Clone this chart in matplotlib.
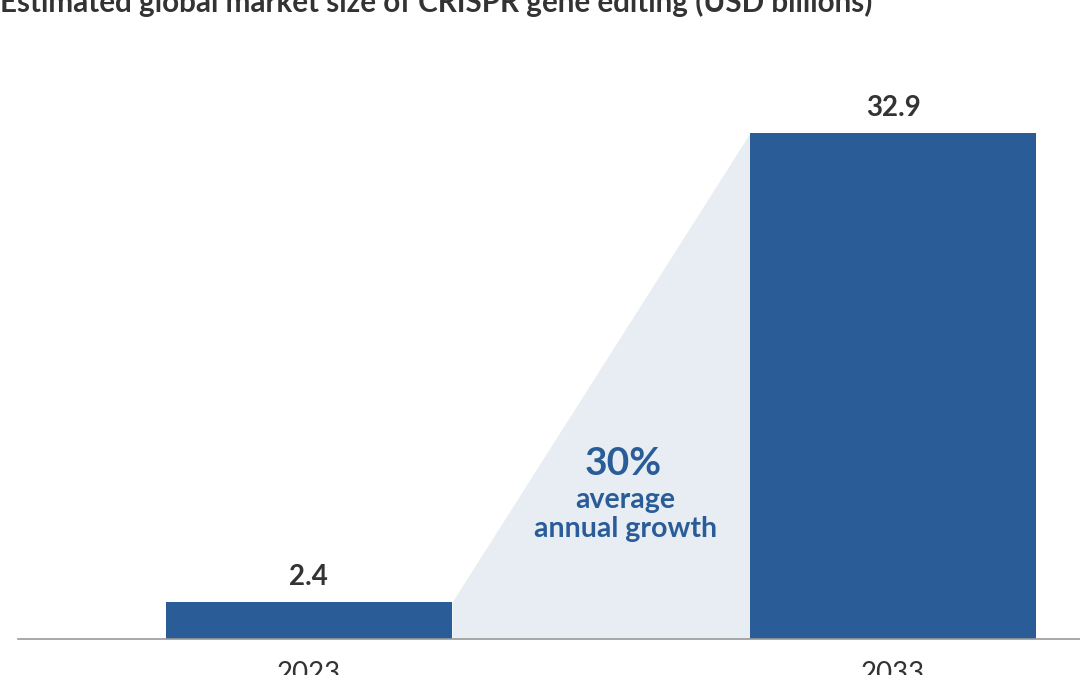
import numpy as np
import matplotlib.pyplot as plt

# data
years = ["2023", "2033"]
market_size = [2.4, 32.9]
growth_label = "30%"
growth_text = "average\nannual growth"
title = "Estimated global market size of CRISPR gene editing (USD billions)"

bar_color = "#2a5d98"
shade_color = "#e8edf3"
text_color = "#333333"

plt.rcParams['font.family'] = ['Lato', 'DejaVu Sans']

fig = plt.figure(figsize=(10.8, 6.75), dpi=100)
ax = fig.add_axes([18 / 1080, 36 / 675, 1 - 18 / 1080, 600 / 675])

x = np.arange(len(years))
width = 0.49
ax.bar(x, market_size, width=width, color=bar_color, zorder=3)

# shaded growth band between the bars
xs = [x[0] + width / 2, x[1] - width / 2]
ax.fill_between(xs, [0, 0], market_size, color=shade_color, lw=0, zorder=1)

for xi, v in zip(x, market_size):
    ax.annotate(f"{v}", (xi, v), xytext=(0, 9), textcoords="offset points",
                ha="center", va="bottom", fontsize=20, fontweight="bold",
                color=text_color)

tx = 0.538
ax.text(tx, 10.66, growth_label, ha="center", va="baseline", fontsize=28,
        fontweight="bold", color=bar_color)
ax.text(tx + 0.004, 6.63, growth_text, ha="center", va="baseline", fontsize=20.5,
        fontweight="bold", color=bar_color, linespacing=1.15)

ax.set_xlim(-0.498, 1.320)
ax.set_ylim(0, 600 / 506 * 32.9)
ax.set_xticks(x)
ax.set_xticklabels(years, fontsize=20, color=text_color)
ax.tick_params(axis="x", length=0, pad=16)
ax.set_yticks([])
for s in ["top", "right", "left"]:
    ax.spines[s].set_visible(False)
ax.spines["bottom"].set_color("#999999")
ax.spines["bottom"].set_linewidth(1.2)
ax.spines["bottom"].set_zorder(4)

fig.text(0.0, 1 - 12 / 675, title, ha="left", va="baseline", fontsize=21.3,
         fontweight="bold", color=text_color)

fig.savefig("out.png", dpi=100)
